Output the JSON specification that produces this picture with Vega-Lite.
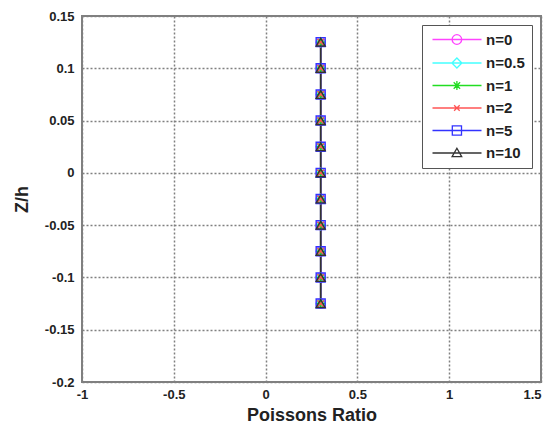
{
  "$schema": "https://vega.github.io/schema/vega-lite/v6.json",
  "width": 459,
  "height": 366,
  "autosize": {"type": "none"},
  "padding": {"left": 82, "top": 16, "right": 7, "bottom": 46},
  "background": "white",
  "config": {
    "view": {"stroke": "#808080", "strokeWidth": 2},
    "font": "Liberation Sans",
    "axis": {
      "labelFont": "Liberation Sans",
      "labelFontWeight": "bold",
      "labelFontSize": 13,
      "labelColor": "#222222",
      "labelFlush": false,
      "labelOverlap": false,
      "titleFont": "Liberation Sans",
      "titleFontWeight": "bold",
      "titleColor": "#222222",
      "domain": false,
      "ticks": false,
      "grid": true,
      "gridColor": "#808080",
      "gridDash": [2, 2],
      "gridOpacity": 1,
      "gridWidth": 1.5
    },
    "legend": {
      "orient": "none",
      "legendX": 340,
      "legendY": 9,
      "symbolSize": 64,
      "symbolOpacity": 1,
      "symbolStrokeWidth": 1.3,
      "labelOffset": 42,
      "labelFontSize": 15,
      "labelFontWeight": "bold",
      "labelColor": "#222222",
      "labelFont": "Liberation Sans",
      "rowPadding": 6.5,
      "padding": 7,
      "strokeColor": "#555555",
      "fillColor": "white"
    }
  },
  "data": {
    "values": [
      {"n": "n=0", "nu": 0.3, "z": -0.125}, {"n": "n=0", "nu": 0.3, "z": -0.1}, {"n": "n=0", "nu": 0.3, "z": -0.075}, {"n": "n=0", "nu": 0.3, "z": -0.05}, {"n": "n=0", "nu": 0.3, "z": -0.025}, {"n": "n=0", "nu": 0.3, "z": 0}, {"n": "n=0", "nu": 0.3, "z": 0.025}, {"n": "n=0", "nu": 0.3, "z": 0.05}, {"n": "n=0", "nu": 0.3, "z": 0.075}, {"n": "n=0", "nu": 0.3, "z": 0.1}, {"n": "n=0", "nu": 0.3, "z": 0.125},
      {"n": "n=0.5", "nu": 0.3, "z": -0.125}, {"n": "n=0.5", "nu": 0.3, "z": -0.1}, {"n": "n=0.5", "nu": 0.3, "z": -0.075}, {"n": "n=0.5", "nu": 0.3, "z": -0.05}, {"n": "n=0.5", "nu": 0.3, "z": -0.025}, {"n": "n=0.5", "nu": 0.3, "z": 0}, {"n": "n=0.5", "nu": 0.3, "z": 0.025}, {"n": "n=0.5", "nu": 0.3, "z": 0.05}, {"n": "n=0.5", "nu": 0.3, "z": 0.075}, {"n": "n=0.5", "nu": 0.3, "z": 0.1}, {"n": "n=0.5", "nu": 0.3, "z": 0.125},
      {"n": "n=1", "nu": 0.3, "z": -0.125}, {"n": "n=1", "nu": 0.3, "z": -0.1}, {"n": "n=1", "nu": 0.3, "z": -0.075}, {"n": "n=1", "nu": 0.3, "z": -0.05}, {"n": "n=1", "nu": 0.3, "z": -0.025}, {"n": "n=1", "nu": 0.3, "z": 0}, {"n": "n=1", "nu": 0.3, "z": 0.025}, {"n": "n=1", "nu": 0.3, "z": 0.05}, {"n": "n=1", "nu": 0.3, "z": 0.075}, {"n": "n=1", "nu": 0.3, "z": 0.1}, {"n": "n=1", "nu": 0.3, "z": 0.125},
      {"n": "n=2", "nu": 0.3, "z": -0.125}, {"n": "n=2", "nu": 0.3, "z": -0.1}, {"n": "n=2", "nu": 0.3, "z": -0.075}, {"n": "n=2", "nu": 0.3, "z": -0.05}, {"n": "n=2", "nu": 0.3, "z": -0.025}, {"n": "n=2", "nu": 0.3, "z": 0}, {"n": "n=2", "nu": 0.3, "z": 0.025}, {"n": "n=2", "nu": 0.3, "z": 0.05}, {"n": "n=2", "nu": 0.3, "z": 0.075}, {"n": "n=2", "nu": 0.3, "z": 0.1}, {"n": "n=2", "nu": 0.3, "z": 0.125},
      {"n": "n=5", "nu": 0.3, "z": -0.125}, {"n": "n=5", "nu": 0.3, "z": -0.1}, {"n": "n=5", "nu": 0.3, "z": -0.075}, {"n": "n=5", "nu": 0.3, "z": -0.05}, {"n": "n=5", "nu": 0.3, "z": -0.025}, {"n": "n=5", "nu": 0.3, "z": 0}, {"n": "n=5", "nu": 0.3, "z": 0.025}, {"n": "n=5", "nu": 0.3, "z": 0.05}, {"n": "n=5", "nu": 0.3, "z": 0.075}, {"n": "n=5", "nu": 0.3, "z": 0.1}, {"n": "n=5", "nu": 0.3, "z": 0.125},
      {"n": "n=10", "nu": 0.3, "z": -0.125}, {"n": "n=10", "nu": 0.3, "z": -0.1}, {"n": "n=10", "nu": 0.3, "z": -0.075}, {"n": "n=10", "nu": 0.3, "z": -0.05}, {"n": "n=10", "nu": 0.3, "z": -0.025}, {"n": "n=10", "nu": 0.3, "z": 0}, {"n": "n=10", "nu": 0.3, "z": 0.025}, {"n": "n=10", "nu": 0.3, "z": 0.05}, {"n": "n=10", "nu": 0.3, "z": 0.075}, {"n": "n=10", "nu": 0.3, "z": 0.1}, {"n": "n=10", "nu": 0.3, "z": 0.125}
    ]
  },
  "encoding": {
    "x": {
      "field": "nu", "type": "quantitative",
      "scale": {"domain": [-1, 1.5], "nice": false, "zero": false},
      "axis": {"values": [-1, -0.5, 0, 0.5, 1, 1.5], "labelExpr": "'' + datum.value", "title": "Poissons Ratio", "titleFontSize": 18, "labelPadding": 6, "titlePadding": 5,
        "labelAlign": {"condition": {"test": "datum.value == 1.5", "value": "right"}, "value": "center"},
        "labelDx": {"condition": {"test": "datum.value == 1.5", "value": 5}, "value": 0}}
    },
    "y": {
      "field": "z", "type": "quantitative",
      "scale": {"domain": [-0.2, 0.15], "nice": false, "zero": false},
      "axis": {"values": [-0.2, -0.15, -0.1, -0.05, 0, 0.05, 0.1, 0.15], "labelExpr": "'' + datum.value", "title": "Z/h", "titleFontSize": 18, "labelPadding": 8, "titlePadding": 13}
    }
  },
  "layer": [
    {
      "mark": {"type": "line", "strokeWidth": 1.5},
      "encoding": {
        "color": {"field": "n", "type": "nominal", "legend": null,
          "scale": {"domain": ["n=0", "n=0.5", "n=1", "n=2", "n=5", "n=10"], "range": ["#ff44ff", "#44ffff", "#22dd22", "#ff5555", "#3333ff", "#333333"]}},
        "order": {"field": "z", "type": "quantitative"}
      }
    },
    {
      "mark": {"type": "point", "filled": false, "size": 81, "strokeWidth": 1.4, "opacity": 1},
      "encoding": {
        "color": {"field": "n", "type": "nominal", "legend": null,
          "scale": {"domain": ["n=0", "n=0.5", "n=1", "n=2", "n=5", "n=10"], "range": ["#ff44ff", "#44ffff", "#22dd22", "#ff5555", "#3333ff", "#333333"]}},
        "shape": {"field": "n", "type": "nominal", "legend": null,
          "scale": {"domain": ["n=0", "n=0.5", "n=1", "n=2", "n=5", "n=10"],
            "range": ["circle", "diamond", "M0,-1L0,1M-1,0L1,0M-0.7,-0.7L0.7,0.7M-0.7,0.7L0.7,-0.7", "M-0.7,-0.7L0.7,0.7M-0.7,0.7L0.7,-0.7", "square", "triangle-up"]}}
      }
    },
    {
      "mark": {"type": "point", "filled": false, "size": 64, "strokeWidth": 1.3, "opacity": 0},
      "encoding": {
        "color": {"field": "n", "type": "nominal",
          "scale": {"domain": ["n=0", "n=0.5", "n=1", "n=2", "n=5", "n=10"], "range": ["#ff44ff", "#44ffff", "#22dd22", "#ff5555", "#3333ff", "#333333"]},
          "legend": {"title": null, "labelExpr": "datum.label + '\u00a0\u00a0'"}},
        "shape": {"field": "n", "type": "nominal",
          "scale": {"domain": ["n=0", "n=0.5", "n=1", "n=2", "n=5", "n=10"],
            "range": [
              "M-1,0L11.25,0M6.3,0A1.2,1.2,0,1,1,3.9,0A1.2,1.2,0,1,1,6.3,0",
              "M-1,0L11.25,0M5.1,-1.25L6.35,0L5.1,1.25L3.85,0Z",
              "M-1,0L11.25,0M5.1,-1.1L5.1,1.1M4.3,-0.8L5.9,0.8M4.3,0.8L5.9,-0.8",
              "M-1,0L11.25,0M4.4,-0.7L5.8,0.7M4.4,0.7L5.8,-0.7",
              "M-1,0L11.25,0M3.95,-1.15L6.25,-1.15L6.25,1.15L3.95,1.15Z",
              "M-1,0L11.25,0M5.1,-1.2L6.3,0.9L3.9,0.9Z"
            ]},
          "legend": {"title": null, "labelExpr": "datum.label + '\u00a0\u00a0'"}}
      }
    }
  ],
  "resolve": {"scale": {"shape": "independent", "color": "independent"}}
}
